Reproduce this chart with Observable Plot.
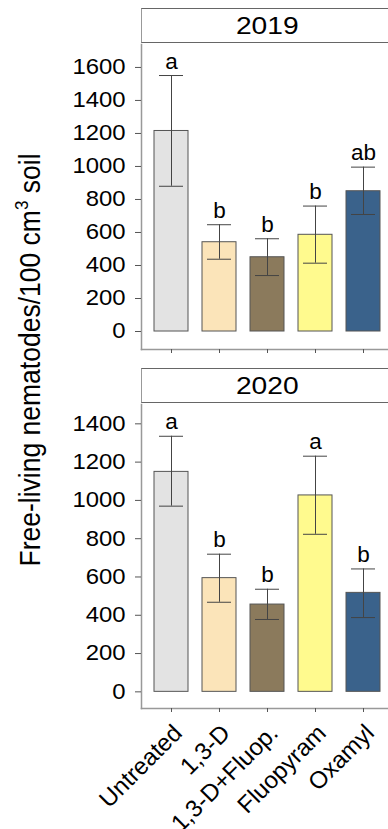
<!DOCTYPE html>
<html>
<head>
<meta charset="utf-8">
<script src="https://cdn.jsdelivr.net/npm/d3@7"></script>
<script src="https://cdn.jsdelivr.net/npm/@observablehq/plot@0.6"></script>
<style>
  html, body { margin: 0; padding: 0; background: #fff; }
  #wrap { position: relative; width: 388px; height: 829px; overflow: hidden; font-family: "Liberation Sans", Arial, sans-serif; color: #000; }
  .strip { position: absolute; left: 141px; width: 251px; height: 33px; border-top: 1.5px solid #666; border-bottom: 1.5px solid #666; border-left: 1px solid #999; box-sizing: content-box; text-align: center; font-size: 24.5px; line-height: 34px; }
  .strip span { display: inline-block; transform: scaleX(1.15); }
  .panel { position: absolute; left: 0; }
  #ylab { position: absolute; left: 30px; top: 360px; transform: translate(-50%, -50%) rotate(-90deg) scaleY(1.08); white-space: nowrap; font-size: 26.5px; line-height: 1; }
  #ylab sup { font-size: 17px; position: relative; top: -2px; }
</style>
</head>
<body>
<div id="wrap">
  <div id="ylab">Free-living nematodes/100 cm<sup>3</sup> soil</div>
  <div class="strip" id="s1" style="top:8px"><span>2019</span></div>
  <div class="panel" id="p1" style="top:44px"></div>
  <div class="strip" id="s2" style="top:368px"><span>2020</span></div>
  <div class="panel" id="p2" style="top:404px"></div>
</div>
<script>
const categories = ["Untreated", "1,3-D", "1,3-D+Fluop.", "Fluopyram", "Oxamyl"];
const colors = ["#e3e3e3", "#fbe4b9", "#8b7a5c", "#fffa8e", "#3a628b"];

const mean2019 = [1215, 541, 450, 586, 850];
const upper2019 = [1551, 647, 562, 760, 996];
const lower2019 = [880, 438, 339, 414, 709];
const letters2019 = ["a", "b", "b", "b", "ab"];
const yTicks2019 = [0, 200, 400, 600, 800, 1000, 1200, 1400, 1600];

const mean2020 = [1149, 594, 456, 1026, 517];
const upper2020 = [1335, 719, 536, 1231, 642];
const lower2020 = [970, 468, 378, 823, 388];
const letters2020 = ["a", "b", "b", "a", "b"];
const yTicks2020 = [0, 200, 400, 600, 800, 1000, 1200, 1400];

function table(mean, lo, hi, letters) {
  return categories.map((c, i) => ({cat: c, mean: mean[i], lo: lo[i], hi: hi[i], letter: letters[i]}));
}

function panel(data, yDomain, yTicks, plotHeight, showLabels) {
  const marginBottom = showLabels ? 121 : 12;
  return Plot.plot({
    width: 388,
    height: plotHeight + marginBottom,
    marginTop: 0,
    marginLeft: 141,
    marginRight: 0,
    marginBottom,
    style: {fontFamily: '"Liberation Sans", Arial, sans-serif', color: "#000", background: "transparent", overflow: "visible"},
    x: {domain: categories, range: [141, 392], paddingInner: 0.3, paddingOuter: 0.25},
    y: {domain: yDomain},
    color: {domain: categories, range: colors},
    marks: [
      Plot.frame({anchor: "bottom", stroke: "#999", strokeWidth: 1.5}),
      Plot.frame({anchor: "left", stroke: "#999", strokeWidth: 1.5}),
      Plot.axisY({ticks: yTicks, tickSize: 6, tickPadding: 10, fontSize: 21.5, stroke: "#555", label: null, tickFormat: d3.format("d"), className: "ytick"}),
      Plot.axisX({tickSize: 4, stroke: "#555", label: null, tickFormat: () => ""}),
      showLabels ? Plot.text(categories, {x: (d) => d, frameAnchor: "bottom", rotate: -45, textAnchor: "end", lineAnchor: "bottom", dx: 12, dy: 26, fontSize: 24, fill: "#000"}) : null,
      Plot.barY(data, {x: "cat", y: "mean", fill: "cat", stroke: "#555", strokeWidth: 1}),
      Plot.ruleX(data, {x: "cat", y1: "lo", y2: "hi", stroke: "#444", strokeWidth: 1}),
      Plot.tickY(data, {x: "cat", y: "hi", stroke: "#444", strokeWidth: 1, insetLeft: 5, insetRight: 5}),
      Plot.tickY(data, {x: "cat", y: "lo", stroke: "#444", strokeWidth: 1, insetLeft: 5, insetRight: 5}),
      Plot.text(data, {x: "cat", y: "hi", text: "letter", dy: -7, lineAnchor: "bottom", fontSize: 22.5, fill: "#000"})
    ]
  });
}

function stretchTicks(svg, factor) {
  svg.querySelectorAll('g[aria-label="y-axis tick label"] text').forEach((t) => {
    const w = t.getComputedTextLength();
    if (w > 0) {
      t.setAttribute("textLength", (w * factor).toFixed(2));
      t.setAttribute("lengthAdjust", "spacingAndGlyphs");
    }
  });
}

const p1 = panel(table(mean2019, lower2019, upper2019, letters2019), [-109, 1739], yTicks2019, 305, false);
const p2 = panel(table(mean2020, lower2020, upper2020, letters2020), [-87, 1501], yTicks2020, 304, true);
document.getElementById("p1").appendChild(p1);
document.getElementById("p2").appendChild(p2);
stretchTicks(p1, 1.11);
stretchTicks(p2, 1.11);
</script>
</body>
</html>
